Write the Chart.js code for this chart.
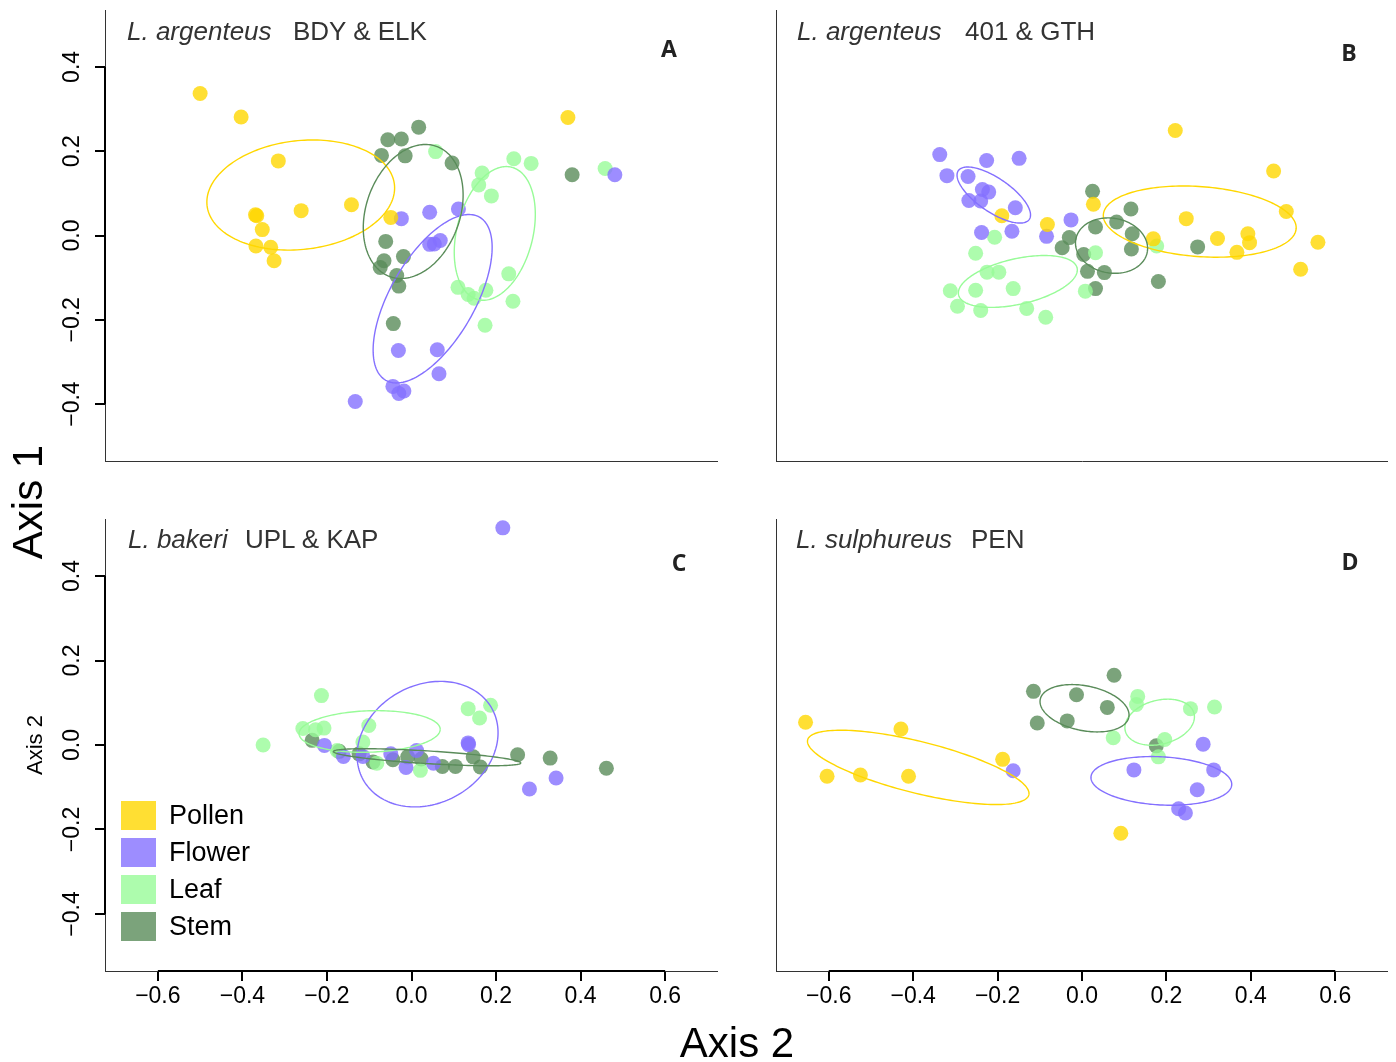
<!DOCTYPE html>
<html>
<head>
<meta charset="utf-8">
<script src="https://cdn.jsdelivr.net/npm/chart.js@4.4.1/dist/chart.umd.min.js"></script>
<style>
  body { margin: 0; background: #fff; width: 1396px; height: 1062px; position: relative; overflow: hidden;
         font-family: "Liberation Sans", Arial, sans-serif; color: #000; }
  canvas { position: absolute; }
  .t { position: absolute; white-space: nowrap; line-height: 1; }
  .ttl { font-size: 26px; color: #333; }
  .let { font-family: "Open Sans", sans-serif; font-weight: bold; font-size: 23px; color: #222; transform: translateX(-50%); }
  .leg { position: absolute; left: 121px; display: flex; align-items: center; font-size: 27px; }
  .leg span { display: inline-block; width: 35px; height: 29px; margin-right: 13px; }
</style>
</head>
<body>
<canvas id="cA" width="678" height="511" style="left:40px;top:0"></canvas>
<canvas id="cB" width="677" height="511" style="left:711px;top:0"></canvas>
<canvas id="cC" width="678" height="512" style="left:40px;top:509px"></canvas>
<canvas id="cD" width="677" height="512" style="left:711px;top:509px"></canvas>

<div class="t ttl" style="left:127px;top:18px"><i>L. argenteus</i></div>
<div class="t ttl" style="left:293px;top:18px">BDY &amp; ELK</div>
<div class="t ttl" style="left:797px;top:18px"><i>L. argenteus</i></div>
<div class="t ttl" style="left:965px;top:18px">401 &amp; GTH</div>
<div class="t ttl" style="left:128px;top:526px"><i>L. bakeri</i></div>
<div class="t ttl" style="left:245px;top:526px">UPL &amp; KAP</div>
<div class="t ttl" style="left:796px;top:526px"><i>L. sulphureus</i></div>
<div class="t ttl" style="left:971px;top:526px">PEN</div>

<div class="t let" style="left:669px;top:37px">A</div>
<div class="t let" style="left:1349px;top:41px">B</div>
<div class="t let" style="left:679px;top:551px">C</div>
<div class="t let" style="left:1350px;top:550px">D</div>

<div class="t" style="left:28px;top:502px;font-size:42px;transform:translate(-50%,-50%) rotate(-90deg)">Axis 1</div>
<div class="t" style="left:35px;top:745px;font-size:22px;transform:translate(-50%,-50%) rotate(-90deg)">Axis 2</div>
<div class="t" style="left:737px;top:1022px;font-size:42px;transform:translateX(-50%)">Axis 2</div>

<div id="legend"></div>

<script>
// groups and colours
const groupNames = ["Pollen", "Flower", "Leaf", "Stem"];
const fills = ["rgba(255,215,0,0.8)", "rgba(132,112,255,0.8)", "rgba(152,251,152,0.8)", "rgba(90,140,90,0.8)"];
const lines = ["#FFD700", "#8470FF", "#98FB98", "#5A8C5A"];

const xTicks = [-0.6, -0.4, -0.2, 0.0, 0.2, 0.4, 0.6];
const yTicks = [-0.4, -0.2, 0.0, 0.2, 0.4];

// panel A: L. argenteus BDY & ELK  [axis2, axis1]
const aPollen = [[-0.500, 0.337], [-0.403, 0.281], [-0.315, 0.177], [-0.369, 0.049], [-0.366, 0.047],
  [-0.353, 0.014], [-0.368, -0.025], [-0.333, -0.028], [-0.325, -0.060], [-0.261, 0.059],
  [-0.142, 0.073], [-0.049, 0.043], [0.370, 0.280]];
const aFlower = [[-0.024, 0.040], [0.043, 0.055], [0.111, 0.063], [0.043, -0.021], [0.054, -0.020],
  [0.068, -0.012], [0.481, 0.144], [-0.031, -0.273], [0.061, -0.271], [0.065, -0.328],
  [-0.044, -0.358], [-0.030, -0.375], [-0.018, -0.369], [-0.133, -0.394]];
const aLeaf = [[0.057, 0.199], [0.167, 0.148], [0.159, 0.120], [0.189, 0.094], [0.242, 0.182],
  [0.283, 0.171], [0.458, 0.159], [0.230, -0.091], [0.110, -0.123], [0.134, -0.140],
  [0.148, -0.149], [0.176, -0.130], [0.240, -0.156], [0.174, -0.213]];
const aStem = [[0.017, 0.257], [-0.056, 0.227], [-0.024, 0.229], [-0.071, 0.190], [-0.015, 0.189],
  [0.096, 0.172], [-0.061, -0.014], [-0.065, -0.060], [-0.019, -0.050], [-0.074, -0.076],
  [-0.035, -0.095], [-0.030, -0.120], [-0.043, -0.209], [0.380, 0.144]];

// panel B: L. argenteus 401 & GTH
const bPollen = [[0.221, 0.249], [0.454, 0.153], [0.027, 0.074], [-0.190, 0.047], [-0.082, 0.026],
  [0.484, 0.057], [0.247, 0.040], [0.169, -0.008], [0.321, -0.007], [0.393, 0.004],
  [0.397, -0.017], [0.367, -0.040], [0.559, -0.016], [0.518, -0.080]];
const bFlower = [[-0.337, 0.192], [-0.226, 0.178], [-0.149, 0.183], [-0.320, 0.142], [-0.270, 0.140],
  [-0.236, 0.109], [-0.221, 0.103], [-0.268, 0.083], [-0.240, 0.082], [-0.158, 0.066],
  [-0.238, 0.007], [-0.166, 0.010], [-0.026, 0.037], [-0.084, -0.002]];
const bLeaf = [[-0.207, -0.004], [-0.252, -0.042], [-0.225, -0.087], [-0.197, -0.087], [-0.163, -0.126],
  [-0.252, -0.130], [-0.312, -0.131], [-0.295, -0.168], [-0.240, -0.178], [-0.131, -0.173],
  [-0.086, -0.194], [0.008, -0.132], [0.032, -0.041], [0.177, -0.025]];
const bStem = [[0.025, 0.105], [0.116, 0.063], [0.082, 0.032], [0.032, 0.020], [0.119, 0.004],
  [-0.030, -0.005], [-0.047, -0.029], [0.004, -0.045], [0.117, -0.032], [0.013, -0.085],
  [0.053, -0.088], [0.032, -0.126], [0.181, -0.109], [0.274, -0.027]];

// panel C: L. bakeri UPL & KAP
const cPollen = [];
const cFlower = [[0.216, 0.514], [-0.206, -0.001], [-0.161, -0.027], [-0.115, -0.027], [-0.049, -0.021],
  [0.012, -0.013], [-0.013, -0.053], [0.052, -0.043], [0.134, 0.005], [0.135, 0.001],
  [0.279, -0.104], [0.342, -0.078]];
const cLeaf = [[-0.351, 0.000], [-0.257, 0.039], [-0.213, 0.117], [-0.207, 0.040], [-0.227, 0.036],
  [-0.101, 0.046], [-0.115, 0.007], [-0.176, -0.013], [0.021, -0.060], [0.134, 0.086],
  [0.161, 0.064], [0.187, 0.094], [-0.082, -0.043]];
const cStem = [[-0.235, 0.011], [-0.171, -0.015], [-0.124, -0.021], [-0.091, -0.040], [-0.044, -0.035],
  [-0.009, -0.028], [0.023, -0.033], [0.073, -0.051], [0.104, -0.051], [0.146, -0.028],
  [0.163, -0.052], [0.251, -0.023], [0.328, -0.031], [0.461, -0.055]];

// panel D: L. sulphureus PEN
const dPollen = [[-0.655, 0.054], [-0.429, 0.038], [-0.604, -0.074], [-0.525, -0.071], [-0.411, -0.074],
  [-0.188, -0.034], [0.092, -0.209]];
const dFlower = [[-0.163, -0.061], [0.123, -0.059], [0.287, 0.002], [0.312, -0.059], [0.273, -0.106],
  [0.229, -0.151], [0.245, -0.161]];
const dLeaf = [[0.132, 0.115], [0.129, 0.096], [0.257, 0.086], [0.314, 0.090], [0.074, 0.017],
  [0.196, 0.013], [0.181, -0.028]];
const dStem = [[-0.115, 0.127], [-0.013, 0.119], [0.060, 0.089], [-0.106, 0.052], [-0.035, 0.057],
  [0.076, 0.165], [0.176, -0.002]];

// ellipses per group: [centre x, centre y, semi-axis a, semi-axis b, angle deg]
const ellA = [[-0.262, 0.096, 0.223, 0.129, 6.5], [0.050, -0.150, 0.223, 0.100, 60.2],
  [0.197, 0.005, 0.162, 0.090, 75.8], [0.004, 0.057, 0.164, 0.111, 70.5]];
const ellB = [[0.279, 0.033, 0.229, 0.083, -4.2], [-0.209, 0.096, 0.102, 0.040, -34.5],
  [-0.152, -0.109, 0.144, 0.054, 12.8], [0.070, -0.024, 0.086, 0.065, -10]];
const ellC = [null, [0.038, 0.002, 0.174, 0.140, 28.8],
  [-0.099, 0.032, 0.167, 0.049, 1.9], [0.037, -0.029, 0.222, 0.015, -3.5]];
const ellD = [[-0.388, -0.053, 0.270, 0.061, -13.95], [0.188, -0.085, 0.167, 0.057, -3.1],
  [0.184, 0.054, 0.084, 0.052, 14.4], [0.006, 0.087, 0.107, 0.053, -11.35]];

const fmt = v => (v < 0 ? "\u2212" : "") + Math.abs(v).toFixed(1);
const tickFont = { family: "'Liberation Sans', Arial, sans-serif", size: 23 };

// confidence ellipses, traced through the chart scales
function ellipsePlugin(list) {
  return {
    id: "ellipses",
    afterDatasetsDraw(chart) {
      const { ctx } = chart;
      const xs = chart.scales.x, ys = chart.scales.y;
      ctx.save();
      ctx.beginPath();
      ctx.rect(chart.chartArea.left, chart.chartArea.top, chart.chartArea.width, chart.chartArea.height);
      ctx.clip();
      list.forEach((e, i) => {
        if (!e) return;
        const [cx, cy, a, b, deg] = e;
        const r = deg * Math.PI / 180;
        ctx.beginPath();
        for (let k = 0; k <= 180; k++) {
          const t = k / 180 * 2 * Math.PI;
          const dx = a * Math.cos(t), dy = b * Math.sin(t);
          const px = xs.getPixelForValue(cx + dx * Math.cos(r) - dy * Math.sin(r));
          const py = ys.getPixelForValue(cy + dx * Math.sin(r) + dy * Math.cos(r));
          if (k === 0) ctx.moveTo(px, py); else ctx.lineTo(px, py);
        }
        ctx.strokeStyle = lines[i];
        ctx.lineWidth = 1.4;
        ctx.stroke();
      });
      ctx.restore();
    }
  };
}

// R-style axis: heavy segment between first and last tick
function axisPlugin(showX, showY) {
  return {
    id: "axisBar",
    afterDraw(chart) {
      const { ctx, chartArea: ca } = chart;
      const xs = chart.scales.x, ys = chart.scales.y;
      ctx.save();
      ctx.strokeStyle = "#000";
      ctx.lineWidth = 2;
      ctx.beginPath();
      if (showX) {
        ctx.moveTo(xs.getPixelForValue(xTicks[0]), ca.bottom);
        ctx.lineTo(xs.getPixelForValue(xTicks[xTicks.length - 1]), ca.bottom);
      }
      if (showY) {
        ctx.moveTo(ca.left, ys.getPixelForValue(yTicks[0]));
        ctx.lineTo(ca.left, ys.getPixelForValue(yTicks[yTicks.length - 1]));
      }
      ctx.stroke();
      ctx.restore();
    }
  };
}

function makePanel(id, groups, ells, showX, showY) {
  const datasets = groups.map((g, i) => ({
    label: groupNames[i],
    data: g.map(p => ({ x: p[0], y: p[1] })),
    backgroundColor: fills[i],
    borderWidth: 0,
    pointRadius: 7.5,
    pointHoverRadius: 7.5
  }));
  new Chart(document.getElementById(id), {
    type: "scatter",
    data: { datasets },
    options: {
      responsive: false,
      animation: false,
      events: [],
      layout: { autoPadding: false, padding: { top: 10, right: 0, bottom: 0, left: 0 } },
      plugins: { legend: { display: false }, tooltip: { enabled: false } },
      scales: {
        x: {
          type: "linear", min: -0.725, max: 0.725,
          afterBuildTicks: s => { s.ticks = xTicks.map(v => ({ value: v })); },
          afterFit: s => { s.height = 50; s.paddingLeft = 0; s.paddingRight = 0; },
          border: { display: true, color: "#333", width: 1 },
          grid: { drawOnChartArea: false, drawTicks: showX, tickLength: 10, tickColor: "#000", tickWidth: 2, lineWidth: 2 },
          ticks: { display: showX, autoSkip: false, font: tickFont, color: "#000", padding: 2, callback: fmt }
        },
        y: {
          type: "linear", min: -0.535, max: 0.535,
          afterBuildTicks: s => { s.ticks = yTicks.map(v => ({ value: v })); },
          afterFit: s => { s.width = 65; s.paddingTop = 0; s.paddingBottom = 0; },
          border: { display: true, color: "#333", width: 1 },
          grid: { drawOnChartArea: false, drawTicks: showY, tickLength: 10, tickColor: "#000", tickWidth: 2, lineWidth: 2 },
          ticks: { display: showY, autoSkip: false, minRotation: 90, maxRotation: 90, crossAlign: "center",
                   font: tickFont, color: "#000", padding: 0, callback: fmt }
        }
      }
    },
    plugins: [ellipsePlugin(ells), axisPlugin(showX, showY)]
  });
}

makePanel("cA", [aPollen, aFlower, aLeaf, aStem], ellA, false, true);
makePanel("cB", [bPollen, bFlower, bLeaf, bStem], ellB, false, false);
makePanel("cC", [cPollen, cFlower, cLeaf, cStem], ellC, true, true);
makePanel("cD", [dPollen, dFlower, dLeaf, dStem], ellD, true, false);

// legend (panel C)
const legTops = [801, 838, 875, 912];
const legend = document.getElementById("legend");
groupNames.forEach((n, i) => {
  const row = document.createElement("div");
  row.className = "leg";
  row.style.top = legTops[i] + "px";
  row.style.height = "29px";
  row.innerHTML = '<span style="background:' + fills[i] + '"></span>' + n;
  legend.appendChild(row);
});
</script>
</body>
</html>
